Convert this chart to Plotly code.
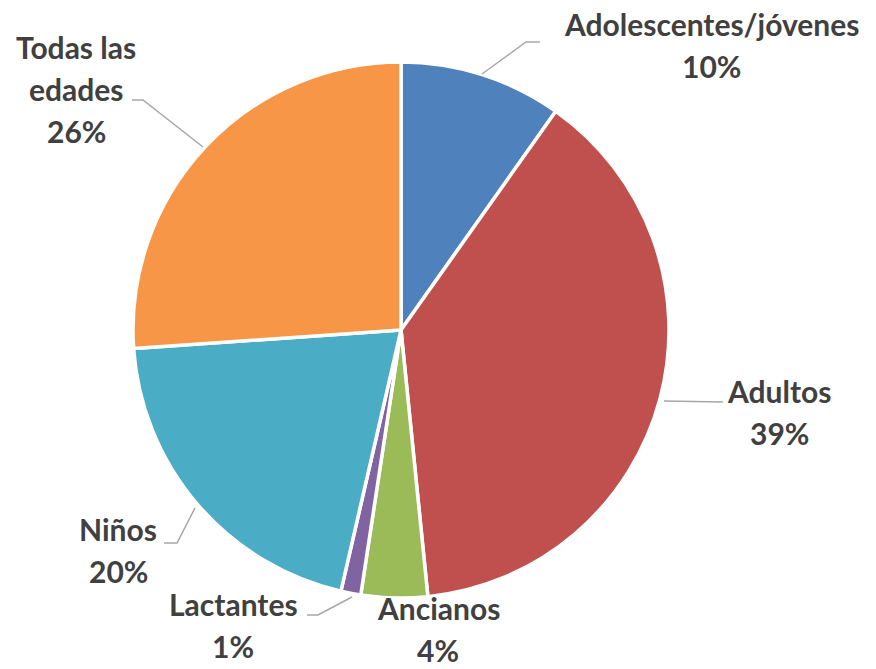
"""
Distribución por grupo de edad - gráfico circular
"""
import plotly.graph_objects as go

# Datos
grupos = ["Adolescentes/jóvenes", "Adultos", "Ancianos", "Lactantes", "Niños", "Todas las edades"]
etiquetas = ["Adolescentes/jóvenes", "Adultos", "Ancianos", "Lactantes", "Niños", "Todas las<br>edades"]
porcentajes = [9.8, 38.6, 4.0, 1.2, 20.3, 26.1]
colores = ["#4f81bd", "#c0504d", "#9bbb59", "#8064a2", "#4bacc6", "#f79646"]

# la página tiene 8px de margen por defecto
OFF = 8
W, H = 876 - OFF, 669 - OFF
FUENTE = "Lato"
GRIS_TEXTO = "#404040"
GRIS_LINEA = "#a6a6a6"


def px(x, y):
    # pixel de la ventana -> coordenadas paper
    return (x - OFF) / W, 1 - (y - OFF) / H


# centro y radio del círculo en pixeles
cx, cy, r = 401, 330, 268
x0, y1 = px(cx - r, cy - r)
x1, y0 = px(cx + r, cy + r)

fig = go.Figure(go.Pie(
    labels=grupos,
    values=porcentajes,
    sort=False,
    direction="clockwise",
    rotation=0,
    marker=dict(colors=colores, line=dict(color="white", width=3.5)),
    textinfo="none",
    hoverinfo="label+percent",
    domain=dict(x=[x0, x1], y=[y0, y1]),
    showlegend=False,
))

# posiciones de las etiquetas (centro x, y de la primera línea)
pos_etiquetas = [(711, 24), (779, 391), (438, 608), (233, 604), (118, 529), (76, 47)]
total = sum(porcentajes)
annotations = []
for etq, val, (lx, ly) in zip(etiquetas, porcentajes, pos_etiquetas):
    lineas = etq.split("<br>") + [f"{round(val / total * 100)}%"]
    for i, linea in enumerate(lineas):
        ax, ay = px(lx, ly + i * 42)
        annotations.append(dict(
            x=ax, y=ay, xref="paper", yref="paper",
            text=linea, showarrow=False,
            xanchor="center", yanchor="middle",
            font=dict(family=FUENTE, size=30, color=GRIS_TEXTO, weight="bold"),
        ))

# líneas guía
guias = [
    [(482, 74), (526, 42), (540, 42)],
    [(664, 401), (723, 402)],
    [(352, 597), (318, 615), (307, 615)],
    [(195, 508), (177, 543), (164, 543)],
    [(203, 147), (143, 100), (132, 100)],
]
shapes = []
for g in guias:
    pts = [px(*p) for p in g]
    path = "M " + " L ".join(f"{a},{b}" for a, b in pts)
    shapes.append(dict(type="path", path=path, xref="paper", yref="paper",
                       line=dict(color=GRIS_LINEA, width=1.5)))

fig.update_layout(
    width=W, height=H,
    margin=dict(l=0, r=0, t=0, b=0),
    paper_bgcolor="white",
    plot_bgcolor="white",
    annotations=annotations,
    shapes=shapes,
)

fig.write_html("out.html")
